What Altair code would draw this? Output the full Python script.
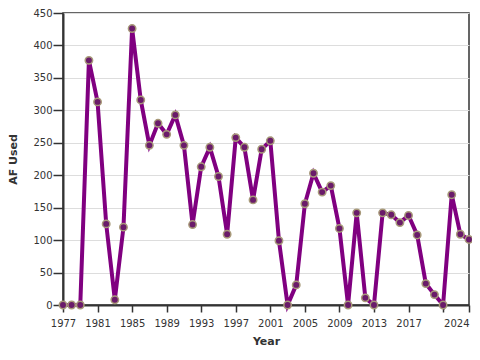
import altair as alt
import pandas as pd

years = list(range(1977, 2025))
af_used = [0, 0, 0, 377, 313, 125, 8, 120, 426, 316,
           246, 280, 263, 293, 246, 124, 213, 243, 198, 109,
           258, 243, 162, 240, 253, 99, 0, 31, 156, 203,
           174, 184, 118, 0, 142, 11, 0, 142, 139, 127,
           138, 108, 33, 16, 0, 170, 109, 101]
x_ticks = [1977, 1981, 1985, 1989, 1993, 1997, 2001, 2005, 2009, 2013, 2017, 2021, 2024]
y_ticks = [0, 50, 100, 150, 200, 250, 300, 350, 400, 450]

df = pd.DataFrame({"Year": years, "AF Used": af_used})

x = alt.X("Year:Q",
          scale=alt.Scale(domain=[1977, 2024], nice=False, zero=False),
          axis=alt.Axis(values=x_ticks, format="d", grid=False, tickSize=7,
                        labelPadding=6, titlePadding=7, labelOverlap=False,
                        labelFlush=False,
                        labelAlign={"condition": {"test": "datum.value == 2024", "value": "right"},
                                    "value": "center"},
                        labelExpr="datum.value == 2021 ? '' : datum.label"))
y = alt.Y("AF Used:Q",
          scale=alt.Scale(domain=[0, 450], nice=False),
          axis=alt.Axis(values=y_ticks, grid=True, tickSize=10, labelPadding=1,
                        titlePadding=14))

base = alt.Chart(df).encode(x=x, y=y)
line = base.mark_line(color="#800080", strokeWidth=4)
pts = base.mark_point(filled=True, size=55, fill="#6a1b6a", stroke="#a89a7a",
                      strokeWidth=1.5, opacity=1)

chart = (line + pts).properties(
    width=406, height=292,
    autosize=alt.AutoSizeParams(type="none"),
    padding={"left": 55, "top": 5, "right": 3, "bottom": 41},
).configure_view(
    stroke="#333333", strokeWidth=1.5
).configure_axis(
    domainColor="#333333", domainWidth=2, tickColor="#333333", tickWidth=1.5,
    labelColor="#333333", labelFont="DejaVu Sans", labelFontSize=10,
    titleFont="DejaVu Sans", titleFontSize=11, titleFontWeight="bold",
    titleColor="#333333", gridColor="#dddddd", gridWidth=1
)

chart.save("out.html", embed_options={"renderer": "svg", "actions": False})
